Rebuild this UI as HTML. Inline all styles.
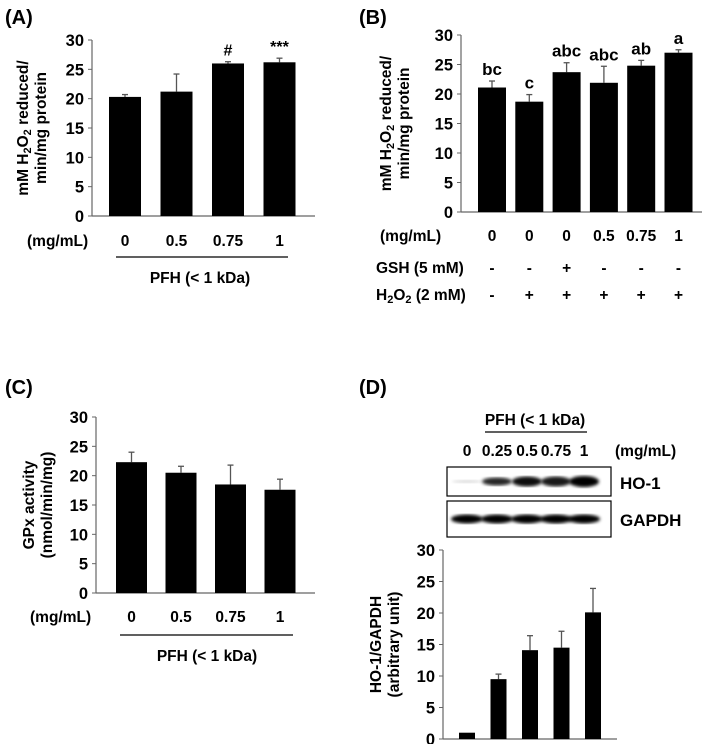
<!DOCTYPE html>
<html><head><meta charset="utf-8"><style>
html,body{margin:0;padding:0;background:#fff;}
svg{display:block;font-family:"Liberation Sans",Arial,sans-serif;font-weight:bold;}
</style></head><body>
<svg id="fig" width="708" height="744" viewBox="0 0 708 744">
<defs>
<filter id="blur"><feGaussianBlur stdDeviation="1.6"/></filter>
</defs>
<g id="root"></g>
</svg>
<script>
// Panel A data
const aCats=["0","0.5","0.75","1"];
const aVals=[20.3,21.2,26.0,26.2];
const aErr=[0.4,3.0,0.3,0.7];
const aMarks=["","","#","***"];
// Panel B data
const bCats=["0","0","0","0.5","0.75","1"];
const bVals=[21.1,18.7,23.7,21.9,24.8,27.0];
const bErr=[1.1,1.2,1.6,2.8,0.9,0.5];
const bLetters=["bc","c","abc","abc","ab","a"];
const bGSH=["-","-","+","-","-","-"];
const bH2O2=["-","+","+","+","+","+"];
// Panel C data
const cCats=["0","0.5","0.75","1"];
const cVals=[22.3,20.5,18.5,17.6];
const cErr=[1.7,1.1,3.3,1.8];
// Panel D data
const dCats=["0","0.25","0.5","0.75","1"];
const dVals=[1.0,9.5,14.1,14.5,20.1];
const dErr=[0,0.8,2.3,2.6,3.8];
const yTicks=[0,5,10,15,20,25,30];

const NS="http://www.w3.org/2000/svg";
const root=document.getElementById('root');
function el(tag,attrs,parent,text){const e=document.createElementNS(NS,tag);for(const k in attrs)e.setAttribute(k,attrs[k]);if(text!==undefined)e.textContent=text;(parent||root).appendChild(e);return e;}

function chart(o){
  const g=el('g',{});
  
  
  const y=v=>o.y0-(v/30)*(o.y0-o.yTop);
  const x=i=>o.x1+o.off+i*o.step;
  const ax=el('line',{x1:o.ax,y1:o.yTop,x2:o.ax,y2:o.y0,stroke:'#666','stroke-width':1.2},g);
  
  
  const bx=el('line',{x1:o.ax,y1:o.y0,x2:o.xEnd,y2:o.y0,stroke:'#666','stroke-width':1.2},g);
  
  
  yTicks.forEach(t=>{
    el('line',{x1:o.ax-4,y1:y(t),x2:o.ax,y2:y(t),stroke:'#666','stroke-width':1},g);
    const tl=el('text',{x:o.ax-8,y:y(t)+6,'text-anchor':'end','font-size':16.5},g,String(t));
    
    
  });
  o.vals.forEach((v,i)=>{
    const cx=x(i);
    if(o.err[i]>0){
      el('line',{x1:cx,y1:y(v),x2:cx,y2:y(v+o.err[i]),stroke:'#555','stroke-width':1.3},g);
      el('line',{x1:cx-3,y1:y(v+o.err[i]),x2:cx+3,y2:y(v+o.err[i]),stroke:'#555','stroke-width':1.3},g);
    }
    const r=el('rect',{x:cx-o.bw/2,y:y(v),width:o.bw,height:o.y0-y(v),fill:'#000'},g);
    
    
    if(o.marks&&o.marks[i]){
      const m=el('text',{x:cx,y:y(v+o.err[i])-6,'text-anchor':'middle','font-size':o.markSize||16},g,o.marks[i]);
      
      
    }
    if(o.catY){
      const c=el('text',{x:cx,y:o.catY,'text-anchor':'middle','font-size':15.5},g,o.cats[i]);
      
      
    }
  });
  const t=el('text',{transform:`translate(${o.titleX},${(o.yTop+o.y0)/2}) rotate(-90)`,'text-anchor':'middle','font-size':15.5},g);
  
  
  o.title.forEach((ln,k)=>{const ts=el('tspan',{x:0,dy:k===0?0:18},t);ts.innerHTML=ln;});
  return {g,x,y};
}
function label(txt,x,y,size,name,anchor){const t=el('text',{x:x,y:y,'font-size':size,'text-anchor':anchor||'start'});t.innerHTML=txt;return t;}
function line(x1,y1,x2,y2,name){const l=el('line',{x1,y1,x2,y2,stroke:'#000','stroke-width':1.2});}

const sub='H<tspan font-size="11" dy="3">2</tspan><tspan dy="-3">O</tspan><tspan font-size="11" dy="3">2</tspan><tspan dy="-3">';
// Panel A
label('(A)',5,24,20,'panel-a-label');
chart({name:'panel-a-chart',ax:92,yTop:40,y0:216,xEnd:315,x1:92,off:33,step:51.5,bw:32,vals:aVals,err:aErr,marks:aMarks,cats:aCats,catY:246,titleX:28,title:['mM '+sub+' reduced/</tspan>','min/mg protein']});
label('(mg/mL)',27,246,15.5,'x-unit-label');
line(116,257,288,257,'pfh-bracket');
label('PFH (&lt; 1 kDa)',200,283,15.5,'pfh-label','middle');

// Panel B
label('(B)',359,24,20,'panel-b-label');
chart({name:'panel-b-chart',ax:461,yTop:35,y0:212,xEnd:702,x1:461,off:31,step:37.3,bw:28,vals:bVals,err:bErr,marks:bLetters,markSize:17,cats:bCats,catY:241,titleX:391,title:['mM '+sub+' reduced/</tspan>','min/mg protein']});
label('(mg/mL)',380,241,15.5,'x-unit-label');
label('GSH (5 mM)',376,273,15.5,'gsh-row-label');
label(sub+' (2 mM)</tspan>',376,300,15.5,'h2o2-row-label');
bGSH.forEach((s,i)=>label(s,461+31+i*37.3,273,15.5,'gsh-sign','middle'));
bH2O2.forEach((s,i)=>label(s,461+31+i*37.3,300,15.5,'h2o2-sign','middle'));

// Panel C
label('(C)',5,394,20,'panel-c-label');
chart({name:'panel-c-chart',ax:96,yTop:417,y0:593,xEnd:315,x1:96,off:35.5,step:49.5,bw:31,vals:cVals,err:cErr,cats:cCats,catY:622,titleX:34,title:['GPx activity','(nmol/min/mg)']});
label('(mg/mL)',30,622,15.5,'x-unit-label');
line(120,635,293,635,'pfh-bracket');
label('PFH (&lt; 1 kDa)',207,661,15.5,'pfh-label','middle');

// Panel D
label('(D)',359,394,20,'panel-d-label');
label('PFH (&lt; 1 kDa)',535,425,15.5,'pfh-label','middle');
line(485,432,587,432,'pfh-bracket');
const dLabX=[467,497,527,556,584];
dCats.forEach((c,i)=>label(c,dLabX[i],456,15.5,'dose-label','middle'));
label('(mg/mL)',615,456,15.5,'x-unit-label');
const b1=el('rect',{x:447,y:467,width:164,height:29,fill:'#fff',stroke:'#000','stroke-width':1.2});


const b2=el('rect',{x:447,y:501,width:164,height:36,fill:'#fff',stroke:'#000','stroke-width':1.2});


const hoH=[1.5,4,5,5,5.5], hoO=[0.15,0.85,0.95,0.9,1];
dLabX.forEach((cx,i)=>{
  const e=el('ellipse',{cx:cx,cy:481.5,rx:15,ry:hoH[i],fill:'#000','fill-opacity':hoO[i],filter:'url(#blur)'});
  
  
  const f=el('ellipse',{cx:cx,cy:519,rx:16,ry:4.5,fill:'#000',filter:'url(#blur)'});
  
  
});
label('HO-1',620,489,17,'ho1-label');
label('GAPDH',620,526,17,'gapdh-label');
chart({name:'panel-d-chart',ax:443,yTop:550,y0:739,xEnd:617,x1:443,off:24,step:31.5,bw:16,vals:dVals,err:dErr,cats:dCats,catY:null,titleX:381,title:['HO-1/GAPDH','(arbitrary unit)']});
</script>
</body></html>
